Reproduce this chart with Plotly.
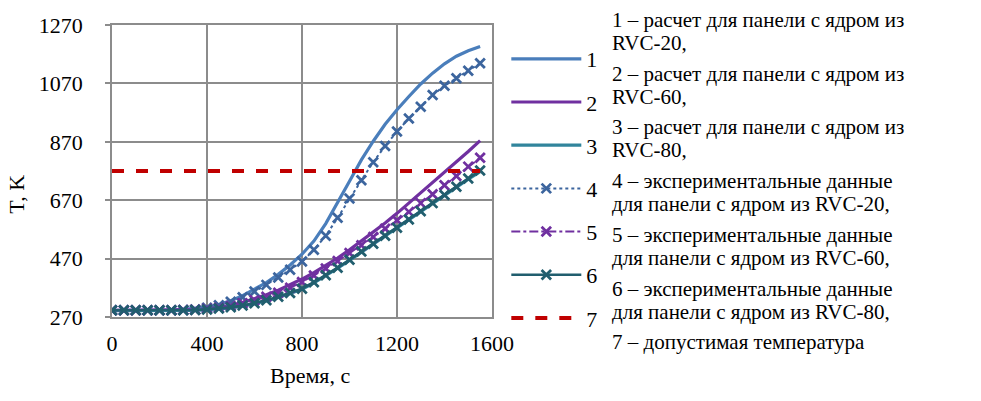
import plotly.graph_objects as go

# ---- data ----
time_s = [0, 50, 100, 150, 200, 250, 300, 350, 400, 450, 500, 550, 600, 650, 700, 750,
          800, 850, 900, 950, 1000, 1050, 1100, 1150, 1200, 1250, 1300, 1350, 1400, 1450, 1500, 1550]

calc_rvc20 = [293, 293, 293, 293, 293, 294, 296, 299, 304, 313, 326, 343, 364, 388, 416, 448,
              485, 530, 590, 660, 735, 808, 872, 930, 980, 1025, 1068, 1105, 1137, 1163, 1182, 1196]
calc_rvc60 = [293, 293, 293, 293, 293, 293, 293, 295, 298, 303, 310, 320, 332, 346, 362, 380,
              400, 422, 446, 472, 500, 530, 561, 592, 625, 660, 695, 730, 766, 801, 837, 874]
calc_rvc80 = [292, 292, 292, 292, 292, 292, 292, 293, 295, 297, 301, 307, 315, 325, 337, 350,
              365, 387, 411, 437, 464, 492, 519, 546, 574, 602, 630, 658, 686, 714, 742, 768]
exp_rvc20 = [293, 293, 293, 293, 293, 293, 294, 296, 302, 310, 322, 338, 357, 380, 405, 432,
             460, 500, 548, 610, 676, 738, 800, 856, 905, 950, 990, 1030, 1062, 1088, 1113, 1139]
exp_rvc60 = [293, 293, 293, 293, 293, 293, 294, 295, 298, 302, 308, 317, 327, 339, 353, 370,
             390, 412, 436, 462, 489, 516, 544, 572, 601, 630, 660, 690, 721, 753, 785, 815]
exp_rvc80 = [293, 293, 293, 293, 293, 293, 293, 294, 296, 299, 303, 309, 317, 327, 339, 352,
             367, 389, 413, 439, 466, 494, 521, 548, 576, 604, 632, 660, 688, 716, 744, 772]
allowed_T = 770

series_names = ["1", "2", "3", "4", "5", "6", "7"]
x_ticks = [0, 400, 800, 1200, 1600]
y_ticks = [270, 470, 670, 870, 1070, 1270]

side_text = [
    ["1 – расчет для панели с ядром из", "RVC-20,"],
    ["2 – расчет для панели с ядром из", "RVC-60,"],
    ["3 – расчет для панели с ядром из", "RVC-80,"],
    ["4 – экспериментальные данные", "для панели с ядром из RVC-20,"],
    ["5 – экспериментальные данные", "для панели с ядром из RVC-60,"],
    ["6 – экспериментальные данные", "для панели с ядром из RVC-80,"],
    ["7 – допустимая температура"],
]

FONT = "Liberation Serif, Times New Roman, serif"

# plot-area geometry in pixels
L, R, T, B = 112, 491.7, 25, 317.5
PW, PH = R - L, B - T

def px_x(px):
    return (px - L) / PW

def px_y(py):
    return (B - py) / PH

fig = go.Figure()

def add_line(y, name, color, width, dash="solid", marker=False, mcolor=None):
    kw = dict(x=time_s, y=y, name=name, legendgroup=name,
              line=dict(color=color, width=width, dash=dash))
    if marker:
        kw["mode"] = "lines+markers"
        kw["marker"] = dict(symbol="x-thin", size=9.5,
                            line=dict(color=mcolor or color, width=2.8))
    else:
        kw["mode"] = "lines"
    fig.add_trace(go.Scatter(**kw))

add_line(calc_rvc20, series_names[0], "#4A7EBB", 3.2)
add_line(calc_rvc60, series_names[1], "#7030A0", 3.2)
add_line(calc_rvc80, series_names[2], "#31859C", 3.2)
add_line(exp_rvc20, series_names[3], "#3C659E", 2, dash="dot", marker=True)
add_line(exp_rvc60, series_names[4], "#7030A0", 2, dash="dashdot", marker=True)
add_line(exp_rvc80, series_names[5], "#215E6E", 2.6, marker=True)
fig.add_trace(go.Scatter(x=[time_s[0], time_s[-1]], y=[allowed_T, allowed_T],
                         mode="lines", name=series_names[6], legendgroup=series_names[6],
                         line=dict(color="#C00000", width=4, dash="dash")))

grid = "#8C8C8C"
fig.update_xaxes(range=[0, 1600], tickvals=x_ticks, showgrid=True, gridcolor=grid, gridwidth=1.5,
                 showline=True, linecolor=grid, linewidth=1.5, mirror=True, zeroline=False,
                 ticks="", ticklabelstandoff=6, tickfont=dict(family=FONT, size=22, color="black"))
fig.update_yaxes(range=[270, 1270], tickvals=y_ticks, showgrid=True, gridcolor=grid, gridwidth=1.5,
                 showline=True, linecolor=grid, linewidth=1.5, mirror=True, zeroline=False,
                 ticks="outside", ticklen=5, tickcolor=grid, tickwidth=1.5, ticklabelstandoff=18,
                 tickfont=dict(family=FONT, size=22, color="black"))

annotations = [
    dict(text="T, K", xref="paper", yref="paper", x=px_x(17), y=px_y(194), showarrow=False,
         textangle=-90, font=dict(family=FONT, size=22, color="black"),
         xanchor="center", yanchor="middle"),
    dict(text="Время, с", xref="paper", yref="paper", x=px_x(310), y=px_y(376), showarrow=False,
         font=dict(family=FONT, size=22, color="black"), xanchor="center", yanchor="middle"),
]
for i, block in enumerate(side_text):
    for j, line in enumerate(block):
        yy = 20 + i * 53.8 + j * 23
        annotations.append(dict(text=line, xref="paper", yref="paper", x=px_x(610),
                                y=px_y(yy), showarrow=False, xanchor="left", yanchor="middle",
                                font=dict(family=FONT, size=21, color="black")))

fig.update_layout(
    width=981, height=401,
    margin=dict(l=112, r=981 - 491.7, t=25, b=401 - 317.5, autoexpand=False),
    paper_bgcolor="white", plot_bgcolor="white",
    showlegend=True,
    legend=dict(x=px_x(506), y=px_y(38), xanchor="left", yanchor="top",
                itemwidth=70, tracegroupgap=11.6, maxheight=380,
                font=dict(family=FONT, size=22, color="black"),
                bgcolor="rgba(0,0,0,0)"),
    annotations=annotations,
)

fig.write_html("out.html", config={"displayModeBar": False},
               post_script="document.body.style.margin='0';document.body.style.padding='0';")
